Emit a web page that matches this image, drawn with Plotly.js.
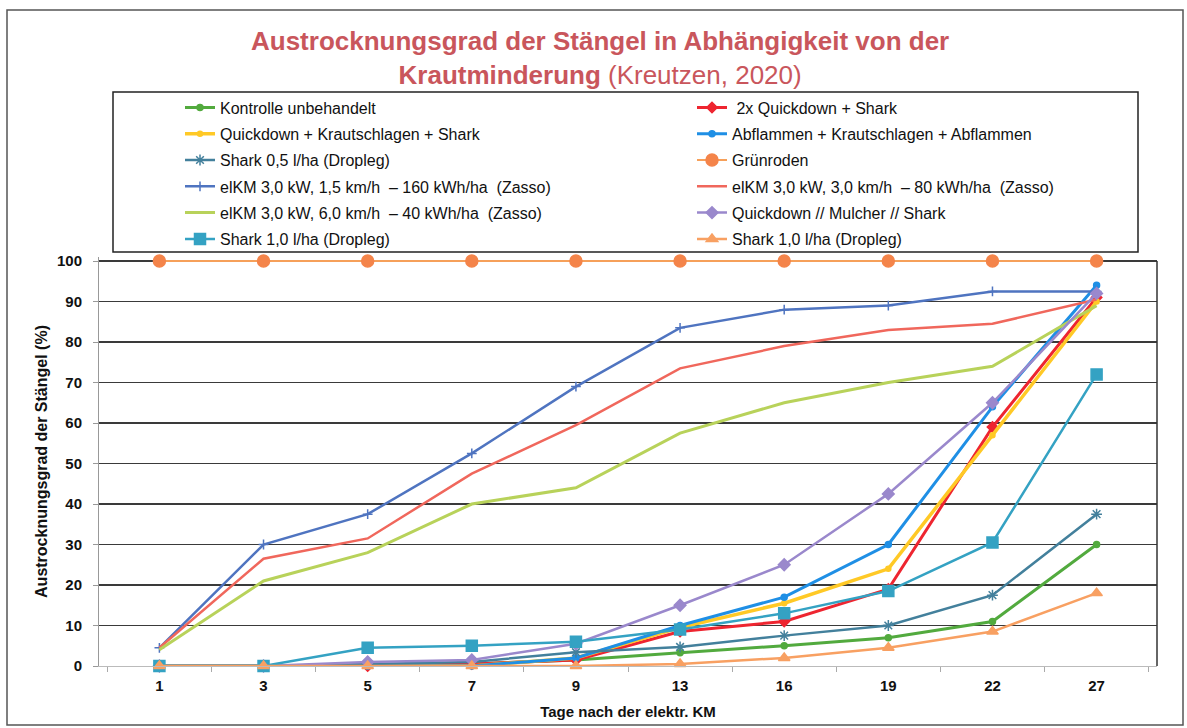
<!DOCTYPE html>
<html>
<head>
<meta charset="utf-8">
<script src="https://cdn.plot.ly/plotly-3.0.1.min.js"></script>
<style>html,body{margin:0;padding:0;background:#fff;}#chart{width:1187px;height:728px;}</style>
</head>
<body>
<div id="chart"></div>
<script>
var days = ["1","3","5","7","9","13","16","19","22","27"];

var kontrolle   = [0, 0, 0, 0.5, 1.5, 3.3, 5, 7, 11, 30];
var quick2x     = [0, 0, 0, 0.5, 1.5, 8.5, 11, 19, 59, 91];
var quickKraut  = [0, 0, 0, 0, 2, 9.5, 15.5, 24, 57, 90];
var abflammen   = [0, 0, 0, 0, 2, 10, 17, 30, 64, 94];
var shark05     = [0, 0, 0.5, 1, 3.4, 4.7, 7.5, 10, 17.5, 37.5];
var gruenroden  = [100, 100, 100, 100, 100, 100, 100, 100, 100, 100];
var elkm15      = [4.5, 30, 37.5, 52.5, 69, 83.5, 88, 89, 92.5, 92.5];
var elkm30      = [4.5, 26.5, 31.5, 47.5, 59.5, 73.5, 79, 83, 84.5, 90.5];
var elkm60      = [4, 21, 28, 40, 44, 57.5, 65, 70, 74, 89];
var quickMulch  = [0, 0, 1, 1.5, 5.5, 15, 25, 42.5, 65, 92];
var shark10sq   = [0, 0, 4.5, 5, 6, 9, 13, 18.5, 30.5, 72];
var shark10tri  = [0, 0, 0, 0, 0, 0.5, 2, 4.5, 8.5, 18];

var names = [
  "Kontrolle unbehandelt",
  " 2x Quickdown + Shark",
  "Quickdown + Krautschlagen + Shark",
  "Abflammen + Krautschlagen + Abflammen",
  "Shark 0,5 l/ha (Dropleg)",
  "Grünroden",
  "elKM 3,0 kW, 1,5 km/h  \u2013 160 kWh/ha  (Zasso)",
  "elKM 3,0 kW, 3,0 km/h  \u2013 80 kWh/ha  (Zasso)",
  "elKM 3,0 kW, 6,0 km/h  \u2013 40 kWh/ha  (Zasso)",
  "Quickdown // Mulcher // Shark",
  "Shark 1,0 l/ha (Dropleg)",
  "Shark 1,0 l/ha (Dropleg)"
];

function tr(y, i, color, lw, mode, sym, msize, leg) {
  return {
    x: days, y: y, type: 'scatter', mode: mode, name: names[i],
    legend: leg, legendgroup: 'g' + i, cliponaxis: false,
    line: {color: color, width: lw},
    marker: {symbol: sym, size: msize, color: color, line: {color: color, width: 1.5}}
  };
}

var data = [
  tr(kontrolle, 0, '#52AA3E', 3, 'lines+markers', 'circle', 6, 'legend'),
  tr(quick2x, 1, '#EE2530', 3, 'lines+markers', 'diamond', 8, 'legend2'),
  tr(quickKraut, 2, '#FFC926', 3.5, 'lines+markers', 'circle', 5, 'legend'),
  tr(abflammen, 3, '#1F8FE5', 3, 'lines+markers', 'circle', 6, 'legend2'),
  tr(shark05, 4, '#43809C', 2.5, 'lines+markers', 'asterisk-open', 9, 'legend'),
  tr(gruenroden, 5, '#F6A05A', 2, 'lines+markers', 'circle', 12, 'legend2'),
  tr(elkm15, 6, '#4F74C0', 2.5, 'lines+markers', 'cross-thin-open', 7, 'legend'),
  tr(elkm30, 7, '#F0675C', 2.5, 'lines', 'circle', 4, 'legend2'),
  tr(elkm60, 8, '#B8D25A', 3, 'lines', 'circle', 4, 'legend'),
  tr(quickMulch, 9, '#9A88CC', 2.5, 'lines+markers', 'diamond', 9, 'legend2'),
  tr(shark10sq, 10, '#34A2C3', 2.5, 'lines+markers', 'square', 11, 'legend'),
  tr(shark10tri, 11, '#F8A062', 2.5, 'lines+markers', 'triangle-up', 10, 'legend2')
];
data[5].marker.color = '#F4844A';
data[5].marker.line.color = '#F4844A';

var L = 99, R = 1157, B = 666;
var pxPerUnit = (666 - 261) / 100;
var T = Math.round(B - 101 * pxPerUnit);
function px(x) { return (x - L) / (R - L); }
function py(y) { return (B - y) / (B - T); }

var legFont = {family: 'Liberation Sans, Arial, sans-serif', size: 16, color: '#111'};
var tickFont = {family: 'Liberation Sans, Arial, sans-serif', size: 15, color: '#111', weight: 'bold'};

var layout = {
  width: 1187, height: 728,
  margin: {l: L, r: 1187 - R, t: T, b: 728 - B},
  paper_bgcolor: '#fff', plot_bgcolor: '#fff',
  showlegend: true,
  annotations: [{
    xref: 'paper', yref: 'paper', x: px(600), y: py(24), xanchor: 'center', yanchor: 'top',
    text: '<b>Austrocknungsgrad der Stängel in Abhängigkeit von der</b><br><b>Krautminderung</b> (Kreutzen, 2020)',
    showarrow: false, align: 'center',
    font: {family: 'Liberation Sans, Arial, sans-serif', size: 26, color: '#C9565C'}
  }],
  xaxis: {
    type: 'category', categoryorder: 'array', categoryarray: days,
    showgrid: false, zeroline: false,
    showline: true, linecolor: '#BBBBBB', linewidth: 1,
    ticks: 'outside', tickson: 'boundaries', ticklen: 5, tickcolor: '#AAAAAA',
    ticklabelstandoff: 6,
    tickfont: tickFont,
    title: {text: '<b>Tage nach der elektr. KM</b>', standoff: 13,
            font: {family: 'Liberation Sans, Arial, sans-serif', size: 15, color: '#111'}}
  },
  yaxis: {
    range: [0, 101], tickvals: [0,10,20,30,40,50,60,70,80,90,100],
    showgrid: true, gridcolor: '#3A3A3A', gridwidth: 1.8,
    zeroline: false,
    showline: true, linecolor: '#999999', linewidth: 1,
    ticks: 'outside', ticklen: 5, tickcolor: '#999999',
    ticklabelstandoff: 8,
    tickfont: tickFont,
    title: {text: '<b>Austrocknungsgrad der Stängel (%)</b>', standoff: 5,
            font: {family: 'Liberation Sans, Arial, sans-serif', size: 16, color: '#111'}}
  },
  legend: {
    x: px(180), y: py(90.5), xanchor: 'left', yanchor: 'top',
    bgcolor: 'rgba(0,0,0,0)', borderwidth: 0, font: legFont,
    tracegroupgap: 2.5, traceorder: 'grouped'
  },
  legend2: {
    x: px(692), y: py(90.5), xanchor: 'left', yanchor: 'top',
    bgcolor: 'rgba(0,0,0,0)', borderwidth: 0, font: legFont,
    tracegroupgap: 2.5, traceorder: 'grouped'
  },
  shapes: [
    {type: 'rect', xref: 'paper', yref: 'paper', x0: px(7), x1: px(1183), y0: py(725), y1: py(10),
     line: {color: '#555', width: 1.5}, fillcolor: 'rgba(0,0,0,0)', layer: 'below'},
    {type: 'rect', xref: 'paper', yref: 'paper', x0: px(113), x1: px(1138), y0: py(252), y1: py(92),
     line: {color: '#222', width: 1.5}, fillcolor: 'rgba(0,0,0,0)'},
    {type: 'line', xref: 'paper', yref: 'y', x0: 1, x1: 1, y0: 0, y1: 100,
     line: {color: '#333', width: 1.5}}
  ]
};

Plotly.newPlot('chart', data, layout, {displayModeBar: false, staticPlot: true});
</script>
</body>
</html>
